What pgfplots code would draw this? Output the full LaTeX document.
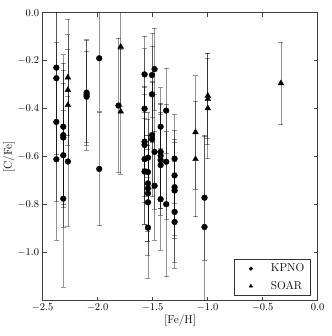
\RequirePackage{fix-cm}
\documentclass[border=0pt]{standalone}
\usepackage{pgfplots}
\pgfplotsset{compat=1.18}
\usepackage{pgfplotstable}

\pgfplotstableread{
x y e
-2.375 -0.229 0.36
-2.375 -0.273 0.34
-2.375 -0.455 0.33
-2.375 -0.611 0.337
-2.312 -0.475 0.30
-2.312 -0.510 0.30
-2.312 -0.520 0.28
-2.312 -0.594 0.30
-2.312 -0.775 0.37
-2.270 -0.620 0.27
-2.100 -0.333 0.22
-2.100 -0.342 0.23
-2.100 -0.350 0.19
-1.985 -0.190 0.22
-1.985 -0.651 0.236
-1.810 -0.387 0.28
-1.573 -0.257 0.16
-1.573 -0.400 0.25
-1.573 -0.537 0.23
-1.573 -0.551 0.24
-1.573 -0.610 0.27
-1.573 -0.662 0.22
-1.542 -0.604 0.19
-1.542 -0.664 0.22
-1.542 -0.711 0.20
-1.542 -0.732 0.22
-1.542 -0.753 0.20
-1.542 -0.790 0.22
-1.542 -0.896 0.21
-1.505 -0.260 0.175
-1.505 -0.340 0.20
-1.505 -0.510 0.22
-1.505 -0.527 0.24
-1.482 -0.235 0.17
-1.482 -0.580 0.24
-1.482 -0.721 0.226
-1.427 -0.475 0.163
-1.427 -0.580 0.20
-1.427 -0.596 0.22
-1.427 -0.614 0.20
-1.427 -0.635 0.21
-1.427 -0.777 0.213
-1.376 -0.408 0.176
-1.376 -0.621 0.24
-1.376 -0.798 0.302
-1.300 -0.608 0.185
-1.300 -0.678 0.19
-1.300 -0.727 0.20
-1.300 -0.741 0.20
-1.300 -0.830 0.21
-1.300 -0.872 0.192
-1.028 -0.771 0.26
-1.028 -0.893 0.38
}\kpno

\pgfplotstableread{
x y e
-2.270 -0.270 0.242
-2.270 -0.322 0.23
-2.270 -0.385 0.232
-1.790 -0.142 0.25
-1.790 -0.412 0.26
-1.110 -0.498 0.236
-1.110 -0.610 0.24
-0.998 -0.346 0.178
-0.998 -0.360 0.19
-0.998 -0.398 0.21
-0.333 -0.294 0.172
}\soar

\begin{document}
\begin{tikzpicture}
\begin{axis}[
    name=ax,
    scale only axis,
    width=275bp, height=288bp,
    xmin=-2.5, xmax=0, ymin=-1.2, ymax=0,
    xtick={-2.5,-2,-1.5,-1,-0.5,0},
    ytick={-1,-0.8,-0.6,-0.4,-0.2,0},
    xticklabel style={/pgf/number format/.cd, fixed, fixed zerofill, precision=1},
    yticklabel style={/pgf/number format/.cd, fixed, fixed zerofill, precision=1},
    tick label style={font=\fontsize{10.5}{12}\selectfont},
    tick align=inside, major tick length=4bp,
    axis line style={black!75, line width=0.6pt},
    every tick/.style={black!75, line width=0.5pt},
    xlabel={[Fe/H]}, ylabel={[C/Fe]},
    label style={font=\fontsize{11.5}{13}\selectfont},
    xlabel style={at={(axis description cs:0.5,-0.07)}, anchor=center},
    ylabel style={at={(axis description cs:-0.122,0.5)}, anchor=center},
    legend style={at={(1,0)}, anchor=south east, xshift=-7bp, yshift=5.4bp,
        draw=black!80, font=\fontsize{11.5}{13}\selectfont,
        inner xsep=15.2bp, inner ysep=4bp, column sep=18.2bp, row sep=7.4bp,
        nodes={inner sep=0pt, text height=8bp, text depth=2bp}},
    legend cell align=left,
    error bars/error bar style={black, opacity=0.42, line width=0.7pt},
    error bars/error mark options={black, opacity=0.42, rotate=90, mark size=2.5bp, line width=0.6pt},
]
\addplot[only marks, mark=*, mark size=2.9bp, black, forget plot,
    error bars/.cd, y dir=both, y explicit]
    table[x=x, y=y, y error=e] {\kpno};
\addplot[only marks, mark=triangle*, mark size=3.3bp, black, forget plot,
    error bars/.cd, y dir=both, y explicit]
    table[x=x, y=y, y error=e] {\soar};
\addlegendimage{only marks, mark=*, mark size=1.8bp, black}
\addlegendentry{\makebox[24.3bp][l]{KPNO}}
\addlegendimage{only marks, mark=triangle*, mark size=2bp, black}
\addlegendentry{\makebox[24.3bp][l]{SOAR}}
\end{axis}
\path ([shift={(-41bp,-35.3bp)}]ax.south west) rectangle ([shift={(14bp,12.7bp)}]ax.north east);
\end{tikzpicture}
\end{document}
